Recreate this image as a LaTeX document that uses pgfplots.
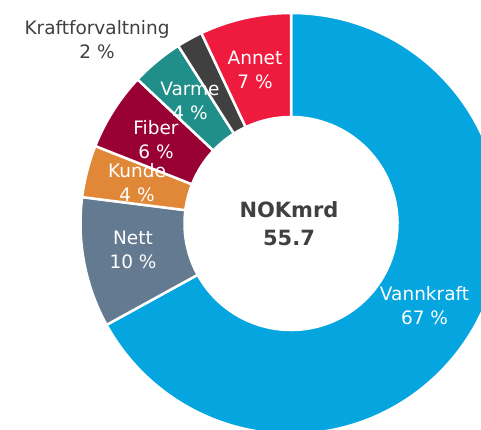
\documentclass[border=0pt]{standalone}
\usepackage{pgfplots}
\pgfplotsset{compat=1.18}
\usepackage{pgfplotstable}
\usepackage{fontspec}
\setmainfont{DejaVu Sans}

\definecolor{cVann}{HTML}{05A5E0}
\definecolor{cNett}{HTML}{647A91}
\definecolor{cKunde}{HTML}{E08838}
\definecolor{cFiber}{HTML}{990033}
\definecolor{cVarme}{HTML}{208E89}
\definecolor{cKraft}{HTML}{404040}
\definecolor{cAnnet}{HTML}{EE1B3E}
\definecolor{txtgray}{HTML}{404040}

\pgfplotstableread{
name share col
Vannkraft 67 cVann
Nett 10 cNett
Kunde 4 cKunde
Fiber 6 cFiber
Varme 4 cVarme
Kraftforvaltning 2 cKraft
Annet 7 cAnnet
}\donut

\begin{document}
\begin{tikzpicture}
\begin{axis}[hide axis, x=0.5pt, y=0.5pt, xmin=0, xmax=481, ymin=0, ymax=429, clip=true]
  \xdef\cum{0}
  \pgfplotstablegetrowsof{\donut}
  \pgfmathtruncatemacro{\nrows}{\pgfplotsretval-1}
  \foreach \i in {0,...,\nrows} {
    \pgfplotstablegetelem{\i}{share}\of{\donut}\let\s\pgfplotsretval
    \pgfplotstablegetelem{\i}{col}\of{\donut}\let\c\pgfplotsretval
    \pgfmathsetmacro{\aone}{90-3.6*\cum}
    \pgfmathsetmacro{\atwo}{90-3.6*(\cum+\s)}
    \pgfmathsetmacro{\newcum}{\cum+\s}
    \xdef\cum{\newcum}
    \edef\temp{\noexpand\fill[\c, draw=white, line width=1.25pt, line join=miter]
      (axis cs:291,205.5) ++(\aone:105.25pt)
      arc[start angle=\aone, end angle=\atwo, radius=105.25pt]
      -- ++(\atwo:-52pt)
      arc[start angle=\atwo, end angle=\aone, radius=53.25pt] -- cycle;}
    \temp
  }
  \begin{scope}[every node/.style={align=center, inner sep=0pt, font=\fontsize{9.25}{12}\selectfont}]
    \node[text=white] at (axis cs:424.5,123) {Vannkraft\\67 \%};
    \node[text=white] at (axis cs:133,179) {Nett\\10 \%};
    \node[text=white] at (axis cs:137,246) {Kunde\\4 \%};
    \node[text=white] at (axis cs:156,289) {Fiber\\6 \%};
    \node[text=white] at (axis cs:190,328) {Varme\\4 \%};
    \node[text=white] at (axis cs:255,359) {Annet\\7 \%};
    \node[text=txtgray] at (axis cs:97,389) {Kraftforvaltning\\2 \%};
  \end{scope}
  \node[text=txtgray, align=center, inner sep=0pt, font=\bfseries\fontsize{10.5}{14}\selectfont] at (axis cs:289,205) {NOKmrd\\55.7};
\end{axis}
\pgfresetboundingbox
\path (current axis.south west) rectangle (current axis.north east);
\end{tikzpicture}
\end{document}
